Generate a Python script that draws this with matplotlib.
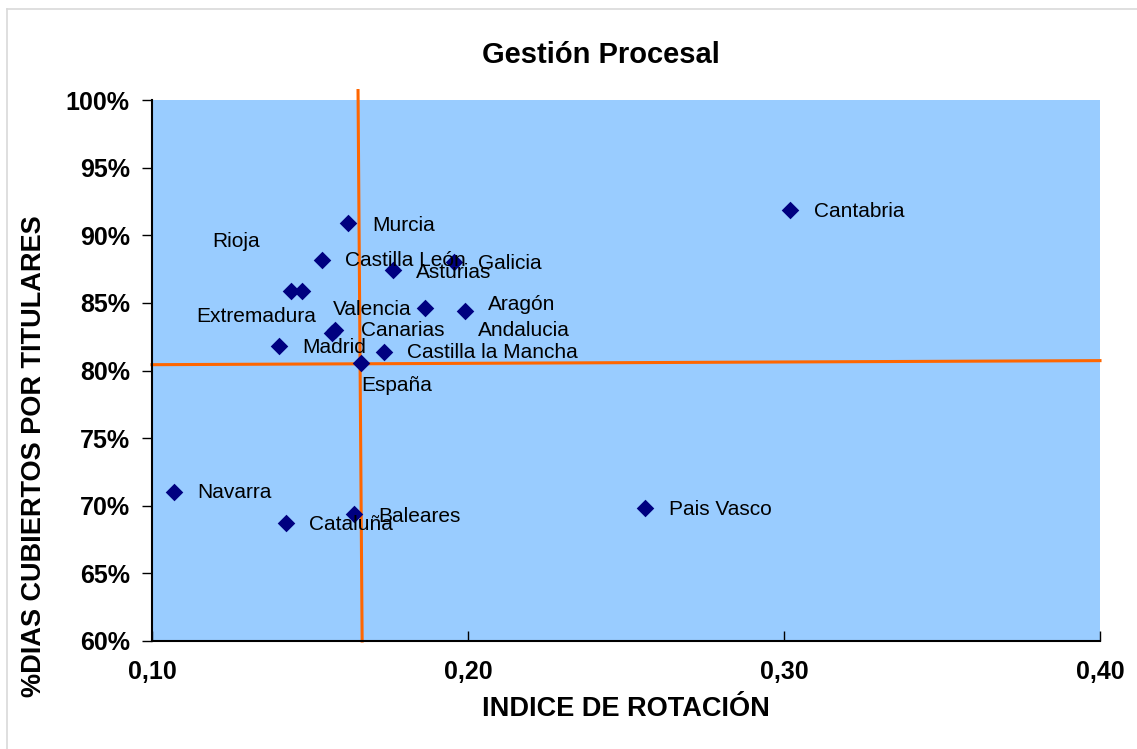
import matplotlib
matplotlib.use("Agg")
import matplotlib.pyplot as plt
from matplotlib.lines import Line2D
from matplotlib.ticker import FuncFormatter

plt.rcParams['font.family'] = ['Liberation Sans', 'DejaVu Sans']

# comunidades: indice de rotacion / % dias cubiertos por titulares
regiones = ["Murcia", "Cantabria", "Castilla León", "Asturias", "Galicia",
            "Rioja", "Extremadura", "Valencia", "Canarias", "Aragón",
            "Andalucia", "Madrid", "Castilla la Mancha", "España",
            "Navarra", "Cataluña", "Baleares", "Pais Vasco"]
rotacion = [0.162, 0.302, 0.1537, 0.1762, 0.1956,
            0.1439, 0.1474, 0.1569, 0.1579, 0.1991,
            0.1864, 0.1402, 0.1734, 0.1660,
            0.107, 0.1424, 0.1639, 0.256]
cubiertos = [90.9, 91.87, 88.2, 87.43, 88.05,
             85.88, 85.88, 82.75, 83.0, 84.40,
             84.62, 81.81, 81.39, 80.53,
             71.0, 68.70, 69.39, 69.83]
# label offsets in pixels (right of marker by default, some moved by hand)
offsets = [(24, -2), (24, -2), (23, -1), (23, -2), (24, -2),
           (-78, 49), (-106, -26), (1, 24), (26, -1), (23, 6),
           (53, -22), (23, -1), (23, -1), (1, -22),
           (23, 0), (23, -1), (24, -2), (24, -1)]

# lineas de referencia (España)
vline_x = [0.1652, 0.1665]
vline_y = [100.7, 60.0]
hline_x = [0.10, 0.40]
hline_y = [80.43, 80.73]

fig = plt.figure(figsize=(11.37, 7.49), dpi=100)
ax = fig.add_axes([152/1137, 1-641/749, 948/1137, 541/749])
ax.set_facecolor('#99CCFF')

ax.plot(vline_x, vline_y, color='#FF6600', lw=2.2, clip_on=False, zorder=2)
ax.plot(hline_x, hline_y, color='#FF6600', lw=2.2, clip_on=False, zorder=2)
ax.scatter(rotacion, cubiertos, marker='D', s=80, color='#000080', zorder=3,
           linewidths=0)

for name, x, y, (dx, dy) in zip(regiones, rotacion, cubiertos, offsets):
    ax.annotate(name, (x, y), xytext=(dx, dy), textcoords='offset pixels',
                fontsize=15, ha='left', va='center', color='black', zorder=4)

ax.set_xlim(0.10, 0.40)
ax.set_ylim(60, 100)
ax.set_xticks([0.10, 0.20, 0.30, 0.40])
ax.set_yticks(range(60, 101, 5))
ax.xaxis.set_major_formatter(FuncFormatter(lambda v, p: f"{v:.2f}".replace('.', ',')))
ax.yaxis.set_major_formatter(FuncFormatter(lambda v, p: f"{v:.0f}%"))
ax.tick_params(axis='x', direction='in', length=7, width=1, pad=14,
               labelsize=18)
ax.tick_params(axis='y', direction='out', length=7, width=1, pad=9,
               labelsize=18)
for lab in ax.get_xticklabels() + ax.get_yticklabels():
    lab.set_fontweight('bold')

for s in ['top', 'right']:
    ax.spines[s].set_visible(False)
for s in ['left', 'bottom']:
    ax.spines[s].set_linewidth(1.5)
    ax.spines[s].set_color('black')

ax.set_xlabel('INDICE DE ROTACIÓN', fontsize=19.5, fontweight='bold', labelpad=8)
ax.set_ylabel('%DIAS CUBIERTOS POR TITULARES', fontsize=19.5, fontweight='bold')
ax.yaxis.set_label_coords(-0.111, 0.342)
fig.text(601/1137, 1-55/749, 'Gestión Procesal', fontsize=21, fontweight='bold',
         ha='center', va='center')

# borde del area de grafico
fig.add_artist(Line2D([7/1137, 1], [1-9/749, 1-9/749], color='#D9D9D9', lw=1.2))
fig.add_artist(Line2D([7/1137, 7/1137], [0, 1-9/749], color='#D9D9D9', lw=1.2))

fig.savefig('out.png', dpi=100)
